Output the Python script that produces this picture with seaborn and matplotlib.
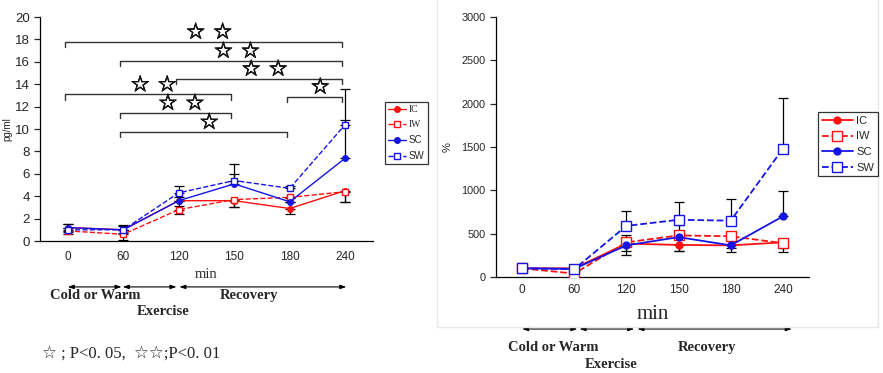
import numpy as np
import matplotlib
matplotlib.use("Agg")
import matplotlib.pyplot as plt
from matplotlib.lines import Line2D
import matplotlib.patheffects as pe
import seaborn as sns

sns.set_style("white")
plt.rcParams['font.family'] = ['Liberation Sans', 'DejaVu Sans']

# ---------------- data ----------------
times = ["0", "60", "120", "150", "180", "240"]
series = ["IC", "IW", "SC", "SW"]

# left panel: concentration (pg/ml)
left_IC = [1.2, 1.0, 3.6, 3.6, 2.9, 4.5]
left_IW = [0.9, 0.6, 2.8, 3.7, 3.9, 4.4]
left_SC = [1.2, 1.0, 3.6, 5.1, 3.5, 7.4]
left_SW = [1.0, 1.0, 4.3, 5.4, 4.7, 10.4]
left_err_IC_down = [0.4, 0.3, 0.5, 0.6, 0.5, 1.0]
left_err_IW_down = [0.3, 0.5, 0.4, 0.7, 0.4, 0.9]
left_err_SC_up = [0.3, 0.3, 0.3, 0.9, 0.3, 3.4]
left_err_SW_up = [0.5, 0.4, 0.6, 1.5, 0.2, 3.2]

# right panel: percent of baseline
right_IC = [100, 100, 385, 370, 365, 400]
right_IW = [100, 40, 400, 480, 470, 390]
right_SC = [100, 95, 365, 460, 365, 700]
right_SW = [100, 90, 590, 660, 650, 1480]
right_err_IC_down = [5, 20, 135, 75, 75, 110]
right_err_IW_down = [5, 20, 100, 185, 130, 50]
right_err_SC_up = [5, 20, 115, 135, 120, 290]
right_err_SW_up = [5, 30, 170, 205, 255, 580]

# significance brackets on the left panel: (start index, end index, height, stars)
brackets = [
    (0, 5, 17.8, "☆ ☆"),
    (1, 5, 16.1, "☆ ☆"),
    (2, 5, 14.5, "☆ ☆"),
    (0, 3, 13.1, "☆ ☆"),
    (1, 3, 11.45, "☆ ☆"),
    (1, 4, 9.75, "☆"),
    (4, 5, 12.9, "☆"),
]

phases = [("Cold or Warm", 0, 1), ("Exercise", 1, 2), ("Recovery", 2, 5)]

# ---------------- figure ----------------
W, H = 883, 373
fig = plt.figure(figsize=(W / 100, H / 100), dpi=100)

def px_axes(l, t, r, b):
    return fig.add_axes([l / W, 1 - b / H, (r - l) / W, (b - t) / H])

axL = px_axes(40, 17, 373, 241)
axR = px_axes(496, 17, 809, 277)

RED = "#ff1010"
BLUE = "#1414e6"
styles = {
    "IC": dict(color=RED, linestyle="-", marker="o", mfc=RED),
    "IW": dict(color=RED, linestyle="--", marker="s", mfc="white"),
    "SC": dict(color=BLUE, linestyle="-", marker="o", mfc=BLUE),
    "SW": dict(color=BLUE, linestyle="--", marker="s", mfc="white"),
}

x = np.arange(len(times))

def draw_panel(ax, vals, errs, ms_c, ms_s, lw):
    handles = []
    for name in series:
        st = styles[name]
        ms = ms_c if st["marker"] == "o" else ms_s
        sns.lineplot(x=x, y=vals[name], ax=ax, color=st["color"],
                     linestyle=st["linestyle"], marker=st["marker"],
                     markersize=ms, markerfacecolor=st["mfc"],
                     markeredgecolor=st["color"], markeredgewidth=1.0,
                     linewidth=lw, label=name, zorder=3)
        handles.append(Line2D([], [], color=st["color"], linestyle=st["linestyle"],
                              marker=st["marker"], markersize=ms,
                              markerfacecolor=st["mfc"], markeredgecolor=st["color"],
                              linewidth=lw))
    if ax.get_legend() is not None:
        ax.get_legend().remove()
    for name, (direction, e) in errs.items():
        e = np.asarray(e, dtype=float)
        z = np.zeros_like(e)
        yerr = [e, z] if direction == "down" else [z, e]
        ax.errorbar(x, vals[name], yerr=yerr, fmt="none", ecolor="black",
                    elinewidth=0.9, capsize=3.5, capthick=0.9, zorder=2)
    ax.set_xlim(-0.5, len(times) - 0.5)
    ax.set_xticks(x)
    ax.set_xticklabels(times)
    ax.set_xticks(np.arange(len(times)) + 0.5, minor=True)
    ax.tick_params(axis="x", which="major", length=0, pad=7)
    ax.tick_params(axis="x", which="minor", direction="in", length=5, width=0.9)
    ax.tick_params(axis="y", direction="out", length=4, width=0.9, left=True)
    for s in ["top", "right"]:
        ax.spines[s].set_visible(False)
    for s in ["left", "bottom"]:
        ax.spines[s].set_color("black")
        ax.spines[s].set_linewidth(0.9)
    ax.set_xlabel("")
    ax.set_ylabel("")
    return handles

# ---- left panel ----
valsL = {"IC": left_IC, "IW": left_IW, "SC": left_SC, "SW": left_SW}
errsL = {"IC": ("down", left_err_IC_down), "IW": ("down", left_err_IW_down),
         "SC": ("up", left_err_SC_up), "SW": ("up", left_err_SW_up)}
hL = draw_panel(axL, valsL, errsL, 4, 4.5, 1.0)
axL.set_ylim(0, 20)
axL.set_yticks(np.arange(0, 21, 2))
axL.tick_params(axis="y", labelsize=9.5)
axL.tick_params(axis="x", labelsize=8.5)
axL.set_ylabel("pg/ml", fontsize=7, labelpad=2)

for i0, i1, yb, lab in brackets:
    xs = [i0 - 0.05, i0 - 0.05, i1 - 0.05, i1 - 0.05]
    ys = [yb - 0.5, yb, yb, yb - 0.5]
    axL.plot(xs, ys, color="#333333", lw=1.0, zorder=1)
    axL.text((i0 + i1) / 2 + 0.05, yb + 0.8, lab, ha="center", va="center",
             fontsize=16, family=["DejaVu Sans"],
             path_effects=[pe.withStroke(linewidth=0.6, foreground="black")])

legL = fig.legend(hL, series, loc="upper left", bbox_to_anchor=(385 / W, 1 - 102 / H),
                  borderaxespad=0, fontsize=7, handlelength=1.8, handletextpad=0.3,
                  labelspacing=0.6, borderpad=0.35, fancybox=False, frameon=True)
legL.get_frame().set_edgecolor("black")
legL.get_frame().set_linewidth(0.9)
for t in legL.get_texts()[:2]:
    t.set_family(["Liberation Serif"])

# ---- right panel ----
valsR = {"IC": right_IC, "IW": right_IW, "SC": right_SC, "SW": right_SW}
errsR = {"IC": ("down", right_err_IC_down), "IW": ("down", right_err_IW_down),
         "SC": ("up", right_err_SC_up), "SW": ("up", right_err_SW_up)}
hR = draw_panel(axR, valsR, errsR, 5, 7, 1.3)
axR.set_ylim(0, 3000)
axR.set_yticks(np.arange(0, 3001, 500))
axR.tick_params(axis="y", labelsize=7.8)
axR.tick_params(axis="x", labelsize=8.5, pad=5)
axR.set_ylabel("%", fontsize=8, labelpad=6)

legR = fig.legend(hR, series, loc="upper left", bbox_to_anchor=(818 / W, 1 - 112 / H),
                  borderaxespad=0, fontsize=8, handlelength=2.8, handletextpad=0.3,
                  labelspacing=0.5, borderpad=0.35, fancybox=False, frameon=True)
legR.get_frame().set_edgecolor("black")
legR.get_frame().set_linewidth(0.9)

# ---- "min" labels and phase arrows ----
serif = ["Liberation Serif", "DejaVu Serif"]

def phase_axis(ax, min_y, min_fs, arrow_y, arrows, labels):
    tr = ax.get_xaxis_transform()
    ax.text(2.5, min_y, "min", transform=tr, ha="center", va="center",
            fontsize=min_fs, family=serif)
    for (a0, a1) in arrows:
        ax.annotate("", xy=(a1, arrow_y), xytext=(a0, arrow_y), xycoords=tr,
                    textcoords=tr, annotation_clip=False,
                    arrowprops=dict(arrowstyle="<|-|>,head_length=0.35,head_width=0.12",
                                    color="black", lw=0.8, shrinkA=0, shrinkB=0))
    for (txt, lx, ly) in labels:
        ax.text(lx, ly, txt, transform=tr, ha="center", va="center",
                fontsize=10.5, fontweight="bold", family=serif)

phase_axis(axL, -0.15, 10.5, -0.205,
           [(0.0, 0.97), (0.99, 1.96), (2.01, 5.02)],
           [(phases[0][0], 0.49, -0.245), (phases[1][0], 1.71, -0.315),
            (phases[2][0], 3.26, -0.245)])
phase_axis(axR, -0.145, 15, -0.2,
           [(0.0, 1.06), (1.1, 2.15), (2.21, 5.17)],
           [(phases[0][0], 0.6, -0.273), (phases[1][0], 1.71, -0.335),
            (phases[2][0], 3.54, -0.273)])

# footnote
fig.text(42 / W, 1 - 354 / H, "☆ ; P<0. 05,  ☆☆;P<0. 01", ha="left", va="center",
         fontsize=12, family=["Liberation Serif", "DejaVu Sans"])

# faint panel frame lines
for xs, ys in [([437, 437], [0, 327]), ([437, 878], [327, 327]), ([878, 878], [0, 327])]:
    fig.add_artist(Line2D([v / W for v in xs], [1 - v / H for v in ys],
                          transform=fig.transFigure, color="#e8e8e8", lw=1))

fig.savefig("out.png", dpi=100)
